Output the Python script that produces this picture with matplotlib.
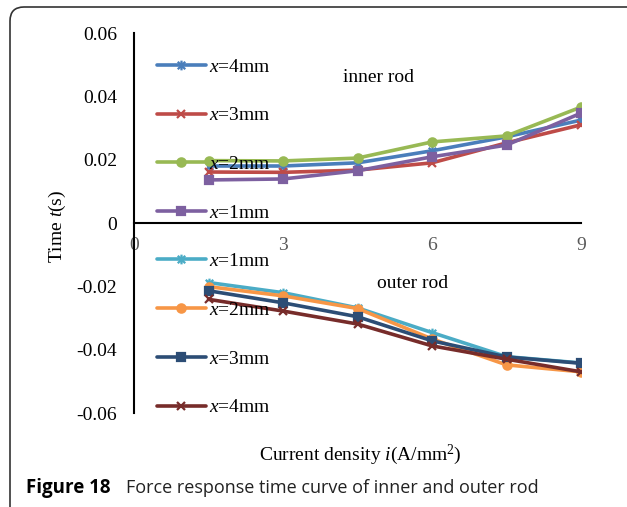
import matplotlib
matplotlib.use("Agg")
import matplotlib.pyplot as plt
from matplotlib.path import Path
from matplotlib.patches import FancyBboxPatch
from matplotlib.transforms import IdentityTransform

plt.rcParams['font.family'] = 'Liberation Serif'
plt.rcParams['mathtext.fontset'] = 'custom'
plt.rcParams['mathtext.rm'] = 'Liberation Serif'
plt.rcParams['mathtext.it'] = 'Liberation Serif:italic'

# current density (A/mm^2)
current = [1.5, 3, 4.5, 6, 7.5, 9]

# inner rod response time (s)
inner_x4 = [0.0180, 0.0180, 0.0190, 0.0228, 0.0272, 0.0325]
inner_x3 = [0.0161, 0.0160, 0.0167, 0.0190, 0.0253, 0.0310]
inner_x2 = [0.0197, 0.0196, 0.0205, 0.0256, 0.0275, 0.0366]
inner_x1 = [0.0136, 0.0139, 0.0165, 0.0209, 0.0246, 0.0347]

# outer rod response time (s)
outer_x1 = [-0.0188, -0.0220, -0.0268, -0.0346, -0.0422, -0.0442]
outer_x2 = [-0.0201, -0.0230, -0.0270, -0.0366, -0.0448, -0.0470]
outer_x3 = [-0.0214, -0.0252, -0.0296, -0.0372, -0.0423, -0.0443]
outer_x4 = [-0.0241, -0.0278, -0.0319, -0.0388, -0.0430, -0.0470]

xticks = [0, 3, 6, 9]
yticks = [-0.06, -0.04, -0.02, 0, 0.02, 0.04, 0.06]
ytick_labels = ['-0.06', '-0.04', '-0.02', '0', '0.02', '0.04', '0.06']

# excel style star marker: x with vertical bar
star = Path([(-1, -1), (1, 1), (-1, 1), (1, -1), (0, -1.3), (0, 1.3)],
            [Path.MOVETO, Path.LINETO, Path.MOVETO, Path.LINETO, Path.MOVETO, Path.LINETO])

fig = plt.figure(figsize=(6.27, 5.07), dpi=100)
ax = fig.add_axes([134/627, 1-413/507, 447/627, 380/507])

lw = 2.6
kw = dict(lw=lw, ms=6, mew=1.6, solid_joinstyle='round', solid_capstyle='round')

l4, = ax.plot(current, inner_x4, color='#4A7EBB', marker=star, label=r'$x$=4mm', **dict(kw, ms=7))
l3, = ax.plot(current, inner_x3, color='#BE4B48', marker='x', label=r'$x$=3mm', **kw)
l2, = ax.plot(current, inner_x2, color='#98B954', marker='o', label=r'$x$=2mm', **kw)
l1, = ax.plot(current, inner_x1, color='#7D60A0', marker='s', label=r'$x$=1mm', **kw)

o1, = ax.plot(current, outer_x1, color='#4BACC6', marker=star, label=r'$x$=1mm', **dict(kw, ms=7))
o2, = ax.plot(current, outer_x2, color='#F79646', marker='o', label=r'$x$=2mm', **kw)
o3, = ax.plot(current, outer_x3, color='#2C4D75', marker='s', label=r'$x$=3mm', **kw)
o4, = ax.plot(current, outer_x4, color='#772C2A', marker='x', label=r'$x$=4mm', **kw)

ax.set_xlim(0, 9)
ax.set_ylim(-0.06, 0.06)
ax.set_xticks(xticks)
ax.set_yticks(yticks)
ax.set_yticklabels(ytick_labels)
ax.spines['top'].set_visible(False)
ax.spines['right'].set_visible(False)
ax.spines['bottom'].set_position(('data', 0))
ax.spines['left'].set_linewidth(1.5)
ax.spines['bottom'].set_linewidth(1.5)
ax.tick_params(axis='y', length=0, pad=12, labelsize=14, labelcolor='black')
ax.tick_params(axis='x', length=0, pad=10, labelsize=14, labelcolor='#595959')
ax.patch.set_alpha(0)

ax.set_ylabel(r'Time $t$(s)', fontsize=14)
ax.yaxis.set_label_coords(-0.148, 0.49)

leg_kw = dict(frameon=False, fontsize=14, handlelength=2.5, handletextpad=0.15,
              labelspacing=1.6, borderpad=0, borderaxespad=0, numpoints=1,
              loc='center left', bbox_transform=fig.transFigure)
leg1 = ax.legend(handles=[l4, l3, l2, l1], bbox_to_anchor=(157/627, 1-140/507), **leg_kw)
ax.add_artist(leg1)
ax.legend(handles=[o1, o2, o3, o4], bbox_to_anchor=(157/627, 1-334.5/507), **leg_kw)

fig.text(343/627, 1-78/507, 'inner rod', fontsize=14, va='center', ha='left')
fig.text(377/627, 1-283/507, 'outer rod', fontsize=14, va='center', ha='left')
fig.text(360/627, 1-455/507, r'Current density $i$(A/mm$^2$)', fontsize=14, va='center', ha='center')

fig.text(26/627, 1-493/507, 'Figure 18', fontsize=13.5, fontweight='bold',
         family='Open Sans', va='baseline', ha='left')
fig.text(126/627, 1-493/507, 'Force response time curve of inner and outer rod',
         fontsize=13, family='Open Sans', va='baseline', ha='left', color='#222222')

frame = FancyBboxPatch((10, -40), 650, 540, boxstyle='round,pad=0,rounding_size=14',
                       transform=IdentityTransform(), fill=False, edgecolor='#333333', lw=1.2)
fig.add_artist(frame)

fig.savefig('out.png', dpi=100)
